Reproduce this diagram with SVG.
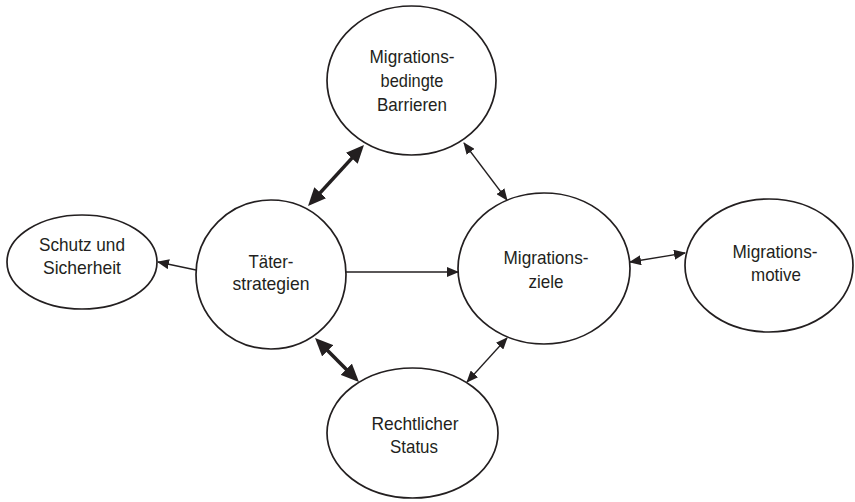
<svg xmlns="http://www.w3.org/2000/svg" width="855" height="502" viewBox="0 0 855 502">
  <style>
    .node ellipse { fill: #ffffff; stroke: #231f20; stroke-width: 1.7; }
    .node text { font-family: "Liberation Sans", Arial, sans-serif; font-size: 19px; fill: #231f20; text-anchor: middle; }
    .thin { stroke: #231f20; stroke-width: 1.3; fill: none; }
    .thick { stroke: #231f20; stroke-width: 3.6; fill: none; }
  </style>
  <defs>
    <marker id="head" viewBox="0 -5 12 10" refX="11" refY="0" markerWidth="12" markerHeight="10" markerUnits="userSpaceOnUse" orient="auto-start-reverse">
      <path d="M0,-5 L12,0 L0,5 z" fill="#231f20"/>
    </marker>
    <marker id="headBold" viewBox="0 -8 18 16" refX="8" refY="0" markerWidth="18" markerHeight="16" markerUnits="userSpaceOnUse" orient="auto-start-reverse">
      <path d="M0,-8 L18,0 L0,8 z" fill="#231f20"/>
    </marker>
  </defs>
  <rect width="855" height="502" fill="#ffffff"/>

  <g id="connectors">
    <line class="thin" x1="196" y1="270" x2="158" y2="262" marker-end="url(#head)"/>
    <line class="thin" x1="346" y1="272" x2="458" y2="272" marker-end="url(#head)"/>
    <line class="thick" x1="314.8" y1="198.6" x2="357.2" y2="152.4" marker-start="url(#headBold)" marker-end="url(#headBold)"/>
    <line class="thin" x1="464" y1="143" x2="507" y2="200" marker-start="url(#head)" marker-end="url(#head)"/>
    <line class="thick" x1="322.1" y1="345.1" x2="351.9" y2="374.9" marker-start="url(#headBold)" marker-end="url(#headBold)"/>
    <line class="thin" x1="507" y1="338" x2="467" y2="382" marker-start="url(#head)" marker-end="url(#head)"/>
    <line class="thin" x1="630" y1="262" x2="685" y2="253" marker-start="url(#head)" marker-end="url(#head)"/>
  </g>

  <g id="barrieren" class="node">
    <ellipse cx="411.5" cy="80.5" rx="84.5" ry="74.5"/>
    <text x="412" y="63" textLength="85" lengthAdjust="spacingAndGlyphs">Migrations-</text>
    <text x="412" y="87" textLength="63" lengthAdjust="spacingAndGlyphs">bedingte</text>
    <text x="412" y="111" textLength="70" lengthAdjust="spacingAndGlyphs">Barrieren</text>
  </g>

  <g id="schutz" class="node">
    <ellipse cx="82" cy="262" rx="75" ry="47"/>
    <text x="82" y="251" textLength="86" lengthAdjust="spacingAndGlyphs">Schutz und</text>
    <text x="82" y="274" textLength="78" lengthAdjust="spacingAndGlyphs">Sicherheit</text>
  </g>

  <g id="taeter" class="node">
    <ellipse cx="271" cy="274.5" rx="75" ry="74.5"/>
    <text x="271" y="268" textLength="45" lengthAdjust="spacingAndGlyphs">Täter-</text>
    <text x="271" y="290" textLength="77" lengthAdjust="spacingAndGlyphs">strategien</text>
  </g>

  <g id="ziele" class="node">
    <ellipse cx="544" cy="268.5" rx="86" ry="75.5"/>
    <text x="546" y="264" textLength="85" lengthAdjust="spacingAndGlyphs">Migrations-</text>
    <text x="546" y="288" textLength="35" lengthAdjust="spacingAndGlyphs">ziele</text>
  </g>

  <g id="motive" class="node">
    <ellipse cx="769" cy="265.5" rx="84" ry="66.5"/>
    <text x="775" y="258" textLength="85" lengthAdjust="spacingAndGlyphs">Migrations-</text>
    <text x="776" y="281" textLength="50" lengthAdjust="spacingAndGlyphs">motive</text>
  </g>

  <g id="status" class="node">
    <ellipse cx="412.5" cy="433" rx="85.5" ry="65"/>
    <text x="415" y="430" textLength="87" lengthAdjust="spacingAndGlyphs">Rechtlicher</text>
    <text x="414" y="453" textLength="48" lengthAdjust="spacingAndGlyphs">Status</text>
  </g>
</svg>
